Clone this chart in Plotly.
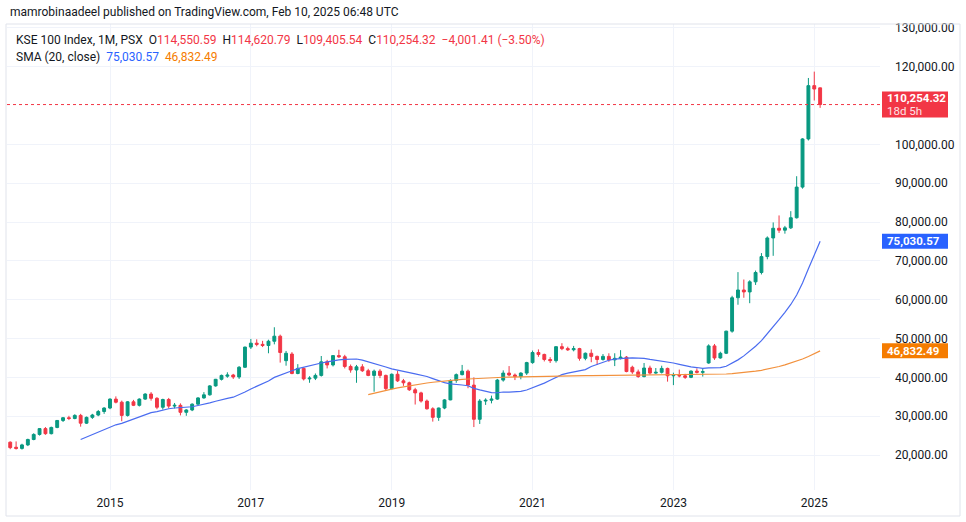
import pandas as pd
import plotly.graph_objects as go

# monthly KSE 100 candles, Jan 2013 .. Feb 2025 (first months only feed the SMA)
months = pd.period_range("2013-01", "2025-02", freq="M").strftime("%Y-%m").tolist()

open_ = [
    16900, 17240, 18170, 18040, 19920, 21000, 21000, 23300, 22000, 21700, 22600, 24000,
    25300, 26800, 25500, 27100, 28900, 29600, 29400, 30200, 28200, 29700, 30300, 31200,
    32100, 34400, 33600, 30200, 33700, 32800, 34400, 35700, 34600, 32300, 34300, 32600,
    32800, 31000, 31600, 33100, 34700, 35500, 37800, 39500, 40300, 40600, 40100, 42600,
    47800, 48800, 48500, 48200, 49300, 50600, 44300, 46000, 41000, 42300, 39600, 39800,
    40500, 44000, 43200, 45600, 45300, 42800, 41900, 42700, 41700, 40500, 41600, 40500,
    37100, 40800, 39100, 38600, 36800, 36000, 33900, 31900, 29700, 32100, 34200, 39200,
    40700, 41600, 38000, 29200, 33900, 34100, 34400, 39300, 41100, 40600, 40200, 41100,
    43800, 46400, 45900, 44600, 44300, 47900, 47400, 47100, 47400, 44900, 46200, 45400,
    44600, 45400, 44500, 44900, 45200, 42600, 41400, 40200, 42400, 41100, 41300, 42300,
    40400, 40500, 40400, 40000, 41600, 41300, 43700, 48100, 45000, 46200, 51900, 60500,
    62500, 62000, 64600, 67000, 71100, 75900, 78400, 77900, 78500, 81100, 89000, 101400,
    115126.90, 114550.59,
]
high = [
    17500, 18300, 18500, 20000, 21600, 21900, 23400, 23500, 23500, 22900, 24200, 25600,
    26900, 27200, 27300, 29000, 29800, 30100, 30500, 30600, 29900, 30600, 31600, 32300,
    34600, 35100, 34000, 33900, 34200, 34600, 35900, 36200, 34900, 34500, 34700, 33400,
    33300, 31800, 33300, 34900, 36200, 38000, 39600, 40700, 41300, 40900, 42900, 47900,
    49900, 49800, 49400, 49700, 52900, 51000, 46800, 46500, 43400, 42600, 40300, 41000,
    45500, 44500, 45700, 47100, 45800, 43300, 43200, 43400, 42200, 42000, 42100, 40700,
    41000, 41700, 39600, 38900, 37300, 36300, 34300, 32300, 32200, 34400, 39500, 41000,
    43200, 42000, 40000, 34400, 34600, 35300, 39600, 41800, 42900, 41000, 41300, 44000,
    46900, 47200, 46100, 45200, 48000, 48800, 47900, 48100, 47600, 46400, 47200, 45600,
    46000, 46200, 46200, 47000, 45500, 43000, 42000, 43700, 43000, 42400, 43000, 42500,
    41200, 42000, 40900, 41800, 42300, 42300, 48500, 48600, 46600, 52000, 61000, 67100,
    65200, 65000, 67500, 72000, 76300, 79900, 81700, 79000, 82800, 91800, 101600, 117100,
    118735, 114620.79,
]
low = [
    16500, 17100, 17800, 17900, 19800, 20600, 21000, 21500, 21400, 21400, 22300, 23800,
    25000, 25200, 25300, 26900, 28500, 29000, 29200, 27300, 28000, 29300, 30000, 30600,
    31800, 33300, 28700, 29900, 32600, 32500, 34200, 34000, 31800, 31700, 32000, 32000,
    30200, 30100, 31300, 32900, 34500, 35300, 37600, 39200, 39900, 39600, 39600, 42400,
    47300, 48000, 47800, 46200, 48500, 43800, 43000, 40800, 40800, 39200, 38600, 39300,
    40200, 42300, 42800, 45000, 42300, 41200, 38600, 41400, 40300, 36300, 39800, 36700,
    36900, 38800, 37800, 36500, 33000, 33500, 31700, 28600, 28800, 31800, 34100, 38600,
    40500, 37200, 27200, 28000, 32900, 33300, 34200, 38900, 40300, 39300, 39500, 40600,
    43500, 45300, 44100, 43700, 43800, 47000, 46800, 46700, 44300, 44400, 43900, 43200,
    44300, 44000, 42900, 44600, 41300, 40900, 39900, 40000, 40700, 40900, 41000, 38900,
    38000, 40000, 39600, 39800, 41000, 40200, 43500, 44500, 44800, 46000, 51500, 58700,
    60500, 59100, 63800, 66500, 70400, 71300, 77200, 77000, 78200, 80900, 88600, 101000,
    111300, 109405.54,
]
close = [
    17240, 18170, 18040, 19920, 21000, 21000, 23140, 21900, 21700, 22600, 24000, 25300,
    26800, 25500, 27100, 28900, 29600, 29400, 30200, 28200, 29700, 30300, 31200, 32100,
    34400, 33600, 30200, 33700, 32800, 34400, 35700, 34600, 32300, 34300, 32600, 32800,
    31000, 31600, 33100, 34700, 35500, 37800, 39500, 40500, 40600, 40100, 42600, 47800,
    48800, 48500, 48200, 49300, 50600, 46400, 46200, 41000, 42300, 39600, 39800, 40500,
    44000, 43200, 45600, 45300, 42800, 41900, 42700, 41700, 40500, 41600, 40500, 37100,
    40800, 39100, 38600, 36800, 36000, 33900, 31900, 29700, 32100, 34200, 39200, 40700,
    41600, 38000, 29200, 33900, 34100, 34400, 39300, 41100, 40600, 40200, 41100, 43800,
    46400, 45900, 44600, 44300, 47900, 47400, 47100, 47400, 44900, 46200, 45400, 44600,
    45400, 44500, 44900, 45200, 41500, 41400, 40200, 42400, 41100, 41300, 42300, 40400,
    40500, 40400, 40000, 41600, 41300, 41450, 48100, 45000, 46200, 51900, 60500, 62500,
    62000, 64600, 67000, 71100, 75900, 78400, 77900, 78500, 81100, 89000, 101400, 115126.90,
    114255.73, 110254.32,
]

year_ticks = ["2015-01", "2017-01", "2019-01", "2021-01", "2023-01", "2025-01"]
year_text = ["2015", "2017", "2019", "2021", "2023", "2025"]
# 110,000 sits under the last-price label, so it is not printed
price_ticks = [20000, 30000, 40000, 50000, 60000, 70000, 80000, 90000, 100000, 120000, 130000]

UP = "#089981"
DOWN = "#f23645"
BLUE = "#2962ff"
ORANGE = "#f57c00"
FONT = "Roboto"

df = pd.DataFrame({"Open": open_, "High": high, "Low": low, "Close": close}, index=months)
sma = df["Close"].rolling(20).mean()
sma_smooth = sma.rolling(50).mean()

fig = go.Figure()
fig.add_trace(go.Candlestick(x=months, open=df["Open"], high=df["High"],
                             low=df["Low"], close=df["Close"],
                             increasing=dict(line=dict(color=UP, width=1), fillcolor=UP),
                             decreasing=dict(line=dict(color=DOWN, width=1), fillcolor=DOWN),
                             whiskerwidth=0, showlegend=False))
fig.add_trace(go.Scatter(x=months, y=sma, mode="lines",
                         line=dict(color="#4a6cf0", width=1.2), showlegend=False))
fig.add_trace(go.Scatter(x=months, y=sma_smooth, mode="lines",
                         line=dict(color="#f2913d", width=1.2), showlegend=False))

W, H = 873, 466

def hx(px):
    return (px - 7) / W

def hy(py):
    return (490 - py) / H

# last price dotted line
fig.add_shape(type="line", xref="paper", x0=0, x1=1, yref="y",
              y0=close[-1], y1=close[-1], line=dict(color=DOWN, width=1, dash="dot"))
# chart frame
fig.add_shape(type="rect", xref="paper", yref="paper",
              x0=hx(6), x1=hx(960), y0=hy(516), y1=1,
              line=dict(color="#e0e3eb", width=1))

red_txt = lambda s: f"<span style='color:{DOWN}'>{s}</span>"
header = ("KSE 100 Index, 1M, PSX  O" + red_txt("114,550.59") + "  H" + red_txt("114,620.79")
          + "  L" + red_txt("109,405.54") + "  C" + red_txt("110,254.32")
          + "  " + red_txt("−4,001.41 (−3.50%)"))
sma_line = (f"SMA (20, close)  <span style='color:{BLUE}'>75,030.57</span>"
            f"  <span style='color:{ORANGE}'>46,832.49</span>")

anns = [
    dict(x=hx(8), y=hy(12), text="mamrobinaadeel published on TradingView.com, Feb 10, 2025 06:48 UTC",
         font=dict(size=12, color="#131722")),
    dict(x=hx(14), y=hy(40), text=header, font=dict(size=12, color="#131722")),
    dict(x=hx(14), y=hy(57), text=sma_line, font=dict(size=12, color="#131722")),
]
for a in anns:
    a.update(xref="paper", yref="paper", xanchor="left", yanchor="middle", showarrow=False)
    fig.add_annotation(**a)

# price labels on the right scale
for val, half, bg in [(close[-1], 13, DOWN), (75030.57, 7.5, BLUE), (46832.49, 7.5, ORANGE)]:
    fig.add_shape(type="rect", xref="paper", x0=hx(882), x1=hx(948),
                  yref="y", ysizemode="pixel", yanchor=val, y0=-half, y1=half,
                  fillcolor=bg, line=dict(width=0), layer="above")

for val, txt, shift, col in [(close[-1], "<b>110,254.32</b>", 6.5, "white"),
                             (close[-1], "18d 5h", -6.5, "#fde3e6"),
                             (75030.57, "<b>75,030.57</b>", 0, "white"),
                             (46832.49, "<b>46,832.49</b>", 0, "white")]:
    fig.add_annotation(x=hx(885), xref="paper", y=val, yref="y", yshift=shift, text=txt,
                       xanchor="left", yanchor="middle", showarrow=False,
                       font=dict(size=11.5, color=col, family=FONT))

fig.update_layout(
    width=966, height=522,
    margin=dict(l=7, r=86, t=24, b=32),
    paper_bgcolor="white", plot_bgcolor="white",
    font=dict(family=FONT, size=12, color="#131722"),
    showlegend=False,
    xaxis=dict(type="category", range=[6.45, 155.2], rangeslider=dict(visible=False),
               tickmode="array", tickvals=year_ticks, ticktext=year_text,
               showgrid=True, gridcolor="#f0f3fa", zeroline=False, showline=False,
               ticks="", ticklabelstandoff=4, tickfont=dict(size=12)),
    yaxis=dict(side="right", range=[10990, 131000], tickmode="array", tickvals=price_ticks,
               tickformat=",.2f", showgrid=True, gridcolor="#f0f3fa",
               zeroline=False, showline=False, ticks="", ticklabelstandoff=14,
               tickfont=dict(size=12)),
)

fig.write_html("out.html", config={"displayModeBar": False},
               post_script="document.body.style.margin='0px';")
